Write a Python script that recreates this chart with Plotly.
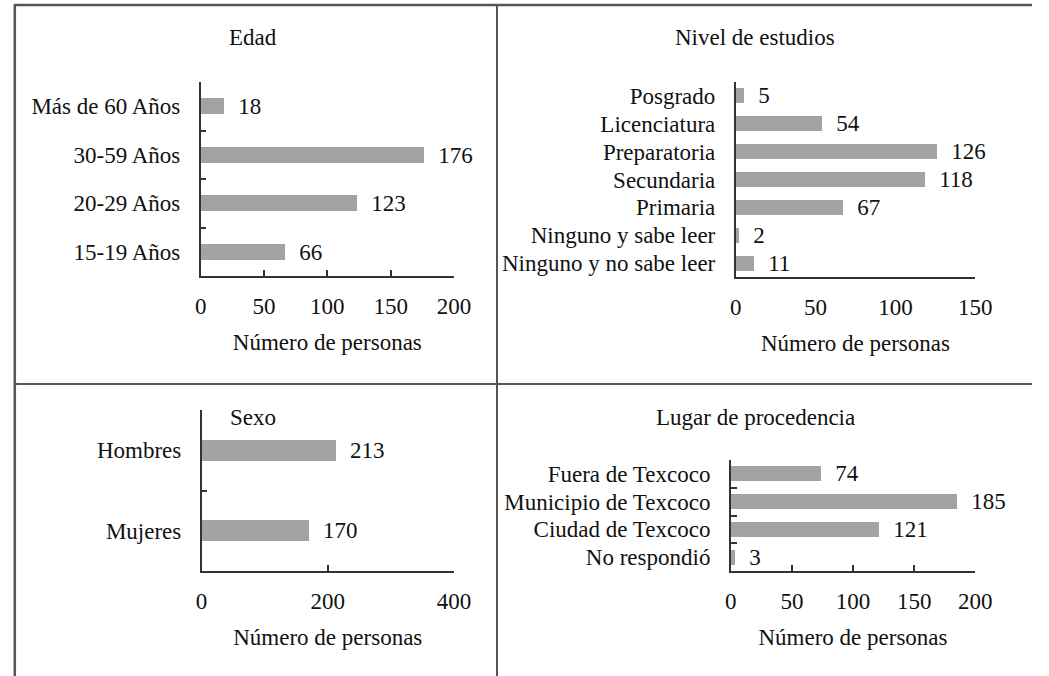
import plotly.graph_objects as go

W, H = 1049, 676

# ---- data ----
edad_cat = ["15-19 Años", "20-29 Años", "30-59 Años", "Más de 60 Años"]
edad_val = [66, 123, 176, 18]

estudios_cat = ["Ninguno y no sabe leer", "Ninguno y sabe leer", "Primaria",
                "Secundaria", "Preparatoria", "Licenciatura", "Posgrado"]
estudios_val = [11, 2, 67, 118, 126, 54, 5]

sexo_cat = ["Mujeres", "Hombres"]
sexo_val = [170, 213]

lugar_cat = ["No respondió", "Ciudad de Texcoco", "Municipio de Texcoco", "Fuera de Texcoco"]
lugar_val = [3, 121, 185, 74]

titles = ["Edad", "Nivel de estudios", "Sexo", "Lugar de procedencia"]
xtitle = "Número de personas"
edad_ticks = [0, 50, 100, 150, 200]
estudios_ticks = [0, 50, 100, 150]
sexo_ticks = [0, 200, 400]
lugar_ticks = [0, 50, 100, 150, 200]

FONT = "Liberation Serif"
FS = 23
BAR = "#a3a3a3"
LINE = "#333333"
TXT = "#111111"

def px_x(p):
    return p / W

def px_y(p):
    return 1 - p / H

panels = [
    # cats, vals, ticks, x0, x1, ytop, ybot, bar width, xticks inside, yticks
    (edad_cat, edad_val, edad_ticks, 199, 458, 82, 276, 0.33, True, True),
    (estudios_cat, estudios_val, estudios_ticks, 746, 991, 82, 277, 0.54, False, False),
    (sexo_cat, sexo_val, sexo_ticks, 200, 458, 410, 571, 0.26, True, True),
    (lugar_cat, lugar_val, lugar_ticks, 741, 991, 460, 571, 0.54, True, True),
]

fig = go.Figure()
layout = {}
for i, (cats, vals, ticks, x0, x1, yt, yb, bw, xt, yt_on) in enumerate(panels, start=1):
    xa = "x" if i == 1 else f"x{i}"
    ya = "y" if i == 1 else f"y{i}"
    fig.add_trace(go.Bar(
        x=vals, y=cats, orientation="h", xaxis=xa, yaxis=ya,
        marker=dict(color=BAR, line=dict(width=0)), width=bw,
        text=vals, texttemplate="\u00a0\u00a0%{x}", textposition="outside",
        textfont=dict(family=FONT, size=FS, color=TXT),
        constraintext="none",
        cliponaxis=False, showlegend=False, hoverinfo="x+y",
    ))
    layout["xaxis" if i == 1 else f"xaxis{i}"] = dict(
        domain=[px_x(x0), px_x(x1)], range=[0, ticks[-1]], anchor=ya,
        tickmode="array", tickvals=ticks, showgrid=False, zeroline=False,
        showline=True, linecolor=LINE, linewidth=1.5,
        ticks="inside" if xt else "", ticklen=6, tickcolor=LINE, tickwidth=1.5,
        tickfont=dict(family=FONT, size=FS, color=TXT),
        ticklabelstandoff=9,
        title=dict(text=xtitle, font=dict(family=FONT, size=FS, color=TXT), standoff=16),
        fixedrange=True,
    )
    layout["yaxis" if i == 1 else f"yaxis{i}"] = dict(
        domain=[px_y(yb), px_y(yt)], anchor=xa, type="category",
        categoryorder="array", categoryarray=cats, range=[-0.5, len(cats) - 0.5],
        tickmode="array", tickvals=cats, ticktext=cats,
        showgrid=False, zeroline=False,
        showline=True, linecolor=LINE, linewidth=1.5,
        ticks="inside" if yt_on else "", tickson="boundaries", ticklen=6,
        tickcolor=LINE, tickwidth=1.5,
        tickfont=dict(family=FONT, size=FS, color=TXT),
        ticklabelstandoff=14,
        fixedrange=True,
    )

ann = []
title_pos = [(253, 38), (766, 38), (253, 417), (766, 417)]
for t, (cx, cy) in zip(titles, title_pos):
    ann.append(dict(text=t, x=px_x(cx), y=px_y(cy), xref="paper", yref="paper",
                    showarrow=False, xanchor="center", yanchor="middle",
                    font=dict(family=FONT, size=FS, color=TXT)))

frame = "#555555"
shapes = [
    dict(type="line", xref="paper", yref="paper", x0=px_x(8), x1=1, y0=px_y(5), y1=px_y(5),
         line=dict(color=frame, width=2.5)),
    dict(type="line", xref="paper", yref="paper", x0=px_x(9), x1=px_x(9), y0=px_y(5), y1=0,
         line=dict(color=frame, width=2.5)),
    dict(type="line", xref="paper", yref="paper", x0=px_x(502), x1=px_x(502), y0=px_y(5), y1=0,
         line=dict(color=frame, width=2)),
    dict(type="line", xref="paper", yref="paper", x0=px_x(9), x1=1, y0=px_y(384), y1=px_y(384),
         line=dict(color=frame, width=2)),
]

fig.update_layout(
    width=W, height=H, autosize=False, margin=dict(l=0, r=0, t=0, b=0),
    paper_bgcolor="white", plot_bgcolor="white",
    font=dict(family=FONT, size=FS, color=TXT),
    annotations=ann, shapes=shapes, bargap=0, **layout,
)

fig.write_html(
    "out.html",
    config={"displayModeBar": False, "responsive": False},
    post_script="document.documentElement.style.margin='0';document.body.style.margin='0';document.body.style.overflow='hidden';",
)
